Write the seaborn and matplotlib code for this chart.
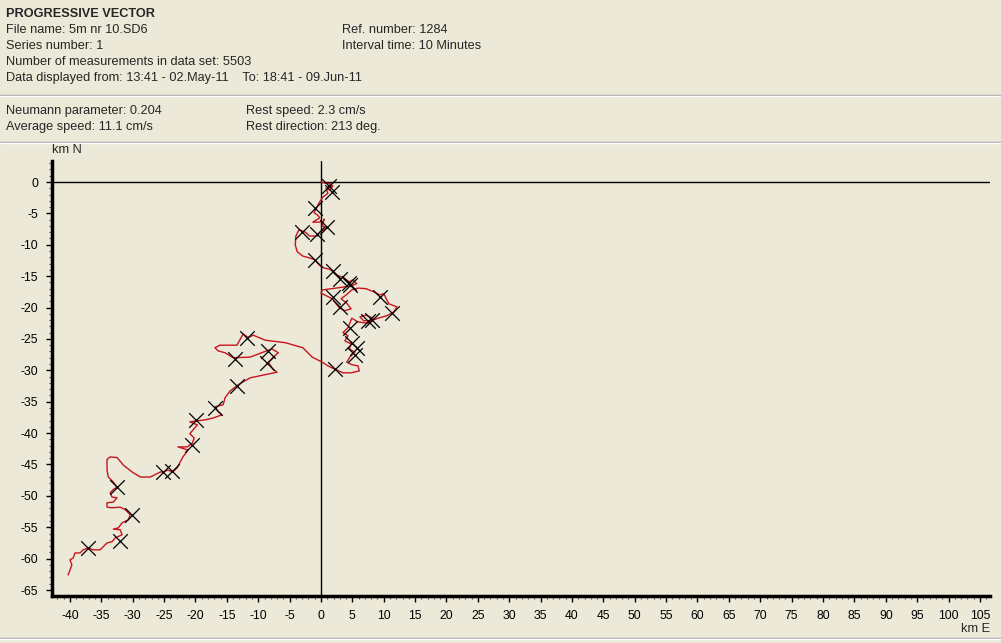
import numpy as np
import pandas as pd
import matplotlib
matplotlib.use("Agg")
import matplotlib.pyplot as plt
from matplotlib.ticker import MultipleLocator
import seaborn as sns

# ---- data (km east, km north) ----
track_east = [0.0, 0.8, 1.6, 1.1, 1.9, 1.4, 0.8, 1.1, 0.3, -0.3, -0.8, -1.1, -0.5, -0.2, -1.3, 0.3, 0.5, 0.2, 1.0, -0.2,
              -0.6, -1.8, -2.5, -3.5, -4.0, -4.1, -3.8, -2.9, -1.8, -1.0, -0.3, 0.5, 1.4, 1.9, 2.5, 3.2, 3.8, 4.5, 5.1, 5.7,
              4.6, 2.4, 0.2, 0.0, 1.0, 1.8, 2.4, 3.0, 3.8, 4.8, 4.1, 3.2, 4.0, 4.9, 5.9, 7.2, 8.4, 9.4, 10.0, 10.4,
              10.8, 12.1, 11.6, 10.5, 9.1, 8.0, 6.8, 6.2, 7.2, 8.3, 7.5, 5.9, 4.9, 4.6, 4.3, 3.5, 4.3, 3.8, 4.8, 4.5,
              5.4, 4.6, 4.1, 4.9, 5.9, 6.1, 4.8, 3.5, 2.2, 1.1, 0.2, -1.4, -2.9, -5.7, -8.9, -10.8, -11.6, -12.4, -13.4, -16.1,
              -16.9, -16.4, -15.3, -14.0, -11.3, -9.2, -7.8, -6.8, -7.6, -8.4, -7.6, -7.0, -8.9, -11.3, -13.2, -14.5, -15.3, -15.6, -16.9, -16.4,
              -15.8, -17.2, -18.5, -20.9, -19.7, -20.4, -20.9, -20.2, -20.5, -21.3, -22.8, -21.2, -22.0, -22.5, -22.9, -23.6, -24.4, -25.2, -25.6, -27.2,
              -28.8, -30.1, -31.5, -32.5, -33.6, -34.1, -34.1, -33.9, -33.1, -32.5, -33.1, -33.6, -33.3, -32.5, -33.1, -34.1, -34.1, -33.3, -32.0, -31.2,
              -30.4, -30.7, -31.7, -32.3, -33.1, -32.0, -31.7, -32.8, -33.3, -34.1, -34.7, -35.2, -36.3, -37.1, -37.9, -38.4, -39.2, -39.5, -40.0, -39.7,
              -40.0, -40.3]
track_north = [0.0, -0.2, -0.3, -0.8, -0.6, -1.3, -1.0, -1.8, -2.4, -3.3, -4.3, -4.9, -5.3, -5.7, -6.4, -6.4, -5.9, -7.0, -7.3, -8.0,
               -8.6, -8.6, -8.0, -7.6, -8.6, -10.0, -11.1, -11.8, -12.1, -12.4, -13.2, -13.7, -13.9, -14.3, -14.8, -15.1, -15.4, -15.9, -15.6, -16.2,
               -16.6, -16.9, -17.2, -17.7, -18.2, -18.6, -19.4, -20.1, -20.5, -20.2, -19.3, -18.6, -18.0, -17.2, -16.9, -17.0, -17.5, -18.0, -17.8, -18.6,
               -19.4, -19.9, -20.7, -21.3, -21.7, -22.1, -22.1, -21.5, -21.2, -21.7, -22.5, -22.3, -21.7, -22.5, -23.2, -24.0, -24.5, -25.3, -25.8, -26.6,
               -27.1, -27.9, -28.7, -29.1, -29.3, -30.1, -30.4, -30.4, -29.8, -29.3, -28.7, -27.9, -26.4, -25.6, -25.2, -24.4, -24.8, -24.2, -26.0, -26.0,
               -26.4, -26.9, -27.2, -28.0, -27.9, -27.1, -26.6, -27.2, -27.9, -28.7, -29.9, -30.3, -30.7, -31.2, -32.3, -33.3, -34.4, -35.5, -35.8, -36.6,
               -37.1, -37.6, -37.9, -38.2, -38.7, -39.5, -40.1, -40.8, -41.6, -42.2, -42.2, -42.7, -43.8, -44.7, -45.5, -46.2, -45.9, -46.2, -46.2, -47.0,
               -47.0, -46.2, -45.1, -43.9, -43.8, -44.2, -45.9, -47.0, -47.8, -48.6, -49.0, -49.5, -50.2, -50.3, -51.0, -51.1, -51.8, -51.9, -51.8, -52.2,
               -53.0, -53.8, -54.3, -55.1, -55.3, -55.4, -56.2, -56.7, -57.3, -57.5, -58.1, -58.6, -58.6, -58.3, -58.6, -59.1, -59.1, -59.9, -60.2, -61.0,
               -61.8, -62.6]

daily_east = [1.3, 1.8, -1.0, 1.0, -3.0, -0.6, -1.0, 1.9, 3.0, 4.5, 4.6, 1.9, 3.0, 9.4, 11.3, 8.1, 7.5, 4.6,
              4.9, 5.7, 5.4, 2.2, -11.8, -8.4, -13.7, -8.6, -13.4, -16.9, -19.9, -20.5, -25.2, -23.7, -32.5, -30.1, -32.0, -37.1]
daily_north = [-0.6, -1.6, -4.1, -7.2, -8.0, -8.3, -12.4, -14.2, -15.4, -16.1, -16.4, -18.3, -19.9, -18.3, -20.9, -22.0, -22.1, -23.2,
               -25.6, -26.4, -27.5, -29.8, -24.8, -26.9, -28.2, -28.8, -32.5, -36.0, -37.9, -41.9, -46.2, -46.0, -48.6, -53.0, -57.2, -58.3]

x_ticks = list(range(-40, 106, 5))
y_ticks = list(range(-65, 1, 5))

header_title = "PROGRESSIVE VECTOR"
header_left = ["File name: 5m nr 10.SD6", "Series number: 1",
               "Number of measurements in data set: 5503",
               "Data displayed from: 13:41 - 02.May-11    To: 18:41 - 09.Jun-11"]
header_right = ["Ref. number: 1284", "Interval time: 10 Minutes"]
stats_left = ["Neumann parameter: 0.204", "Average speed: 11.1 cm/s"]
stats_right = ["Rest speed: 2.3 cm/s", "Rest direction: 213 deg."]

# ---- style ----
bg = "#ECE9D8"
sns.set_style("white")
plt.rcParams["font.family"] = ["Liberation Sans", "DejaVu Sans"]

W, H = 1001, 643
fig = plt.figure(figsize=(W / 100, H / 100), dpi=100, facecolor=bg)

def fx(px):
    return px / W

def fy(py):
    return 1 - py / H

# header text
fs = 9.2
fig.text(fx(6), fy(14), header_title, fontsize=fs, fontweight="bold", va="center", ha="left")
for i, t in enumerate(header_left):
    fig.text(fx(6), fy(30 + 16 * i), t, fontsize=fs, va="center", ha="left")
for i, t in enumerate(header_right):
    fig.text(fx(342), fy(30 + 16 * i), t, fontsize=fs, va="center", ha="left")
for i, t in enumerate(stats_left):
    fig.text(fx(6), fy(111 + 16 * i), t, fontsize=fs, va="center", ha="left")
for i, t in enumerate(stats_right):
    fig.text(fx(246), fy(111 + 16 * i), t, fontsize=fs, va="center", ha="left")

# separators
for py in (95, 142, 638):
    fig.add_artist(plt.Line2D([0, 1], [fy(py), fy(py)], color="#A7A6AA", lw=1.0, transform=fig.transFigure))
    fig.add_artist(plt.Line2D([0, 1], [fy(py + 1), fy(py + 1)], color="white", lw=1.0, transform=fig.transFigure))

# axes
ax = fig.add_axes([fx(52), fy(596), fx(990) - fx(52), fy(161) - fy(596)])
ax.set_facecolor(bg)
x_left = (52 - 321) / 6.275
x_right = (990 - 321) / 6.275
y_top = (182 - 161) / 6.277
y_bot = (182 - 596) / 6.277
ax.set_xlim(x_left, x_right)
ax.set_ylim(y_bot, y_top)

ax.axhline(0, color="black", lw=1.0, zorder=1)
ax.axvline(0, color="black", lw=1.0, zorder=1)

track = pd.DataFrame({"east": track_east, "north": track_north})
daily = pd.DataFrame({"east": daily_east, "north": daily_north})
sns.lineplot(data=track, x="east", y="north", sort=False, estimator=None,
             color="#C8141E", lw=1.0, ax=ax, zorder=3)
sns.scatterplot(data=daily, x="east", y="north", marker="x", s=110, color="black",
                linewidth=0.9, ax=ax, zorder=4)

ax.set_xlabel("")
ax.set_ylabel("")
ax.set_xticks(x_ticks)
ax.set_yticks(y_ticks)
ax.set_xticklabels([str(v) for v in x_ticks])
ax.set_yticklabels([str(v) for v in y_ticks])
ax.xaxis.set_minor_locator(MultipleLocator(1))
ax.yaxis.set_minor_locator(MultipleLocator(1))
ax.tick_params(axis="both", which="major", direction="out", length=4, width=1,
               labelsize=8.8, colors="black", pad=6)
ax.tick_params(axis="both", which="minor", direction="out", length=2, width=0.8, colors="#555555")
ax.tick_params(axis="x", which="both", bottom=True)
ax.tick_params(axis="y", which="both", left=True)

for s in ("top", "right"):
    ax.spines[s].set_visible(False)
for s in ("left", "bottom"):
    ax.spines[s].set_visible(True)
    ax.spines[s].set_color("black")
    ax.spines[s].set_linewidth(2.5)

fig.text(fx(52), fy(150), "km N", fontsize=fs, va="center", ha="left")
fig.text(fx(990), fy(629), "km E", fontsize=fs, va="center", ha="right")

fig.savefig("out.png", dpi=100, facecolor=bg)
